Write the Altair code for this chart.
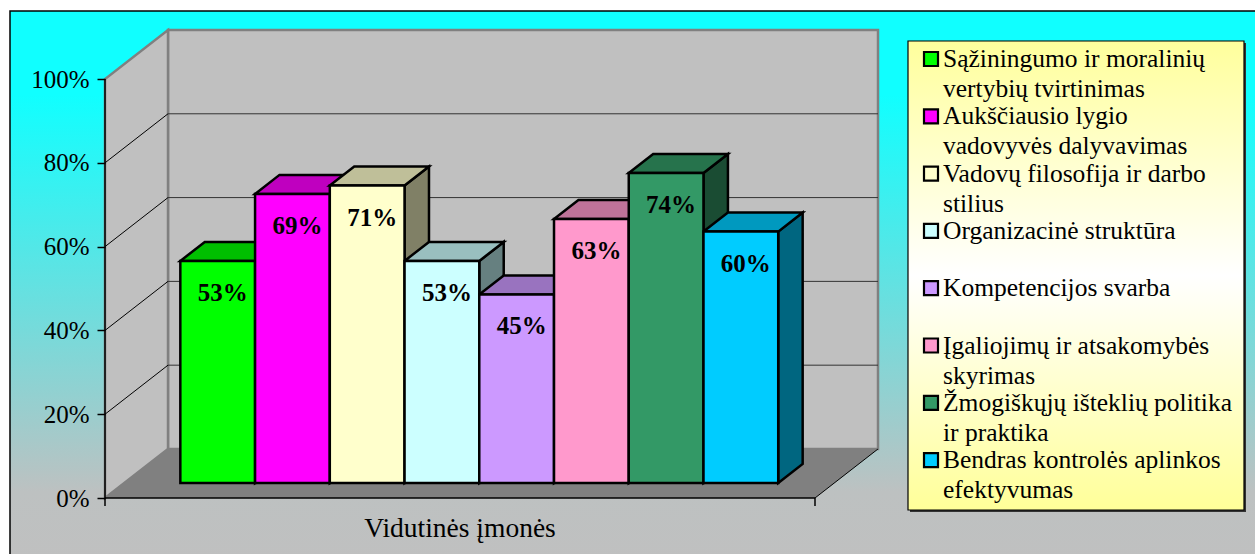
import altair as alt
import pandas as pd

# ---------------- data ----------------
legend_lines = [
    ["Sąžiningumo ir moralinių", "vertybių tvirtinimas"],
    ["Aukščiausio lygio", "vadovyvės dalyvavimas"],
    ["Vadovų filosofija ir darbo", "stilius"],
    ["Organizacinė struktūra", ""],
    ["Kompetencijos svarba", ""],
    ["Įgaliojimų ir atsakomybės", "skyrimas"],
    ["Žmogiškųjų išteklių politika", "ir praktika"],
    ["Bendras kontrolės aplinkos", "efektyvumas"],
]
categories = [" ".join(p for p in lines if p) for lines in legend_lines]
values = [53, 69, 71, 53, 45, 63, 74, 60]
front_colors = ["#00FF00", "#FF00FF", "#FFFFCC", "#CCFFFF",
                "#CC99FF", "#FF99CC", "#339966", "#00CCFF"]
y_ticks = [0, 20, 40, 60, 80, 100]
x_title = "Vidutinės įmonės"

# ---------------- 3-D box geometry (x in bar slots, y in percent) ----------------
SLOTS = 9.5          # floor width in bar widths
GAP = 0.75           # empty space before the first bar
DX, DY = 0.843, 11.7 # oblique shift of the full depth
Z0, Z1 = 0.306, 0.694  # bar depth (front, back)
VMAX = 100
W, H = 773, 468
FONT = "Liberation Serif"


def shade(hex_color, k):
    r, g, b = (int(hex_color[i:i + 2], 16) for i in (1, 3, 5))
    return "#{:02x}{:02x}{:02x}".format(round(r * k), round(g * k), round(b * k))


xs = alt.Scale(domain=[0, SLOTS + DX], nice=False, zero=False)
ys = alt.Scale(domain=[0, VMAX + DY], nice=False, zero=False)
yaxis = alt.Axis(values=y_ticks, labelExpr="datum.value + '%'", title=None,
                 domain=False, grid=False, tickSize=8, tickColor="black",
                 tickWidth=1.5, labelFont=FONT, labelFontSize=25,
                 labelColor="black", labelPadding=8, zindex=1)


def X(f):
    return alt.X(f, type="quantitative", scale=xs, axis=None, stack=None)


def Y(f):
    return alt.Y(f, type="quantitative", scale=ys, axis=yaxis, stack=None)


one = pd.DataFrame({"k": [0]})

# outer background panel
frame = alt.Chart(one).mark_rect(
    fill=alt.LinearGradient(
        gradient="linear", x1=0, x2=0, y1=0, y2=1,
        stops=[alt.GradientStop(color="#10FFFF", offset=0),
               alt.GradientStop(color="#10FFFF", offset=0.15),
               alt.GradientStop(color="#BDC1C1", offset=0.86),
               alt.GradientStop(color="#C0C0C0", offset=1)]),
    stroke="black", strokeWidth=1.5,
).encode(x=alt.value(-95), x2=alt.value(1170), y=alt.value(-19), y2=alt.value(540))

# walls and floor
back_wall = alt.Chart(pd.DataFrame({"x": [DX], "x2": [SLOTS + DX], "y": [DY], "y2": [VMAX + DY]})).mark_rect(
    fill="#C0C0C0", stroke="#808080", strokeWidth=2.5
).encode(x=X("x"), x2=alt.X2("x2"), y=Y("y"), y2=alt.Y2("y2"))

left_wall = alt.Chart(pd.DataFrame({"x": [0, DX], "ya": [0, DY], "yb": [VMAX, VMAX + DY]})).mark_area(
    fill="#C0C0C0", stroke="#808080", strokeWidth=2.5
).encode(x=X("x"), y=Y("ya"), y2=alt.Y2("yb"))

floor = alt.Chart(pd.DataFrame({"y": [0, DY], "xa": [0, DX], "xb": [SLOTS, SLOTS + DX]})).mark_area(
    orient="horizontal", fill="#808080"
).encode(y=Y("y"), x=X("xa"), x2=alt.X2("xb"))

inner = y_ticks[1:-1]
back_grid = alt.Chart(pd.DataFrame({"y": [v + DY for v in inner], "x": DX, "x2": SLOTS + DX})).mark_rule(
    color="#333333", strokeWidth=1
).encode(x=X("x"), x2=alt.X2("x2"), y=Y("y"))

side_grid = alt.Chart(pd.DataFrame({"x": 0.0, "y": inner, "x2": DX, "y2": [v + DY for v in inner]})).mark_rule(
    color="black", strokeWidth=1
).encode(x=X("x"), x2=alt.X2("x2"), y=Y("y"), y2=alt.Y2("y2"))

# bars: right faces, top faces, front faces
side_rows, top_rows, front_rows, label_rows = [], [], [], []
for i, (cat, v, col) in enumerate(zip(categories, values, front_colors)):
    for z in (Z0, Z1):
        side_rows.append({"bar": cat, "x": GAP + i + 1 + z * DX, "ya": z * DY, "yb": v + z * DY,
                          "fill": shade(col, 0.5)})
        top_rows.append({"bar": cat, "y": v + z * DY, "xa": GAP + i + z * DX, "xb": GAP + i + 1 + z * DX,
                         "fill": shade(col, 0.75)})
    front_rows.append({"bar": cat, "x": GAP + i + Z0 * DX, "x2": GAP + i + 1 + Z0 * DX,
                       "y": Z0 * DY, "y2": v + Z0 * DY, "fill": col})
    label_rows.append({"x": GAP + i + 0.5 + Z0 * DX, "y": v + Z0 * DY, "text": f"{v}%"})

bar_style = dict(stroke="black", strokeWidth=2.5, strokeJoin="miter")

sides = alt.Chart(pd.DataFrame(side_rows)).mark_area(**bar_style).encode(
    x=X("x"), y=Y("ya"), y2=alt.Y2("yb"), detail="bar:N", fill=alt.Fill("fill:N", scale=None))

tops = alt.Chart(pd.DataFrame(top_rows)).mark_area(orient="horizontal", **bar_style).encode(
    y=Y("y"), x=X("xa"), x2=alt.X2("xb"), detail="bar:N", fill=alt.Fill("fill:N", scale=None))

fronts = alt.Chart(pd.DataFrame(front_rows)).mark_rect(**bar_style).encode(
    x=X("x"), x2=alt.X2("x2"), y=Y("y"), y2=alt.Y2("y2"), fill=alt.Fill("fill:N", scale=None))

labels = alt.Chart(pd.DataFrame(label_rows)).mark_text(
    font=FONT, fontSize=25, fontWeight="bold", color="black", baseline="middle", dy=32, dx=5
).encode(x=X("x"), y=Y("y"), text="text:N")

# front edges of the box: value axis line, category axis line, end ticks, floor edge
axis_lines = pd.DataFrame({
    "x": [0, 0, 0, SLOTS, SLOTS],
    "y": [-1.9, 0, 0, -1.9, 0],
    "x2": [0, SLOTS, 0, SLOTS, SLOTS + DX],
    "y2": [VMAX, 0, 0, 0, DY],
    "w": [1.5, 1.5, 1.5, 1.5, 1.0],
})
edges = alt.Chart(axis_lines).mark_rule(color="black").encode(
    x=X("x"), x2=alt.X2("x2"), y=Y("y"), y2=alt.Y2("y2"),
    strokeWidth=alt.StrokeWidth("w:Q", scale=None))

title = alt.Chart(pd.DataFrame({"x": [SLOTS / 2], "y": [0], "t": [x_title]})).mark_text(
    font=FONT, fontSize=27.5, color="black", baseline="middle", dy=31
).encode(x=X("x"), y=Y("y"), text="t:N")

main = alt.layer(frame, back_wall, left_wall, floor, back_grid, side_grid,
                 sides, tops, fronts, labels, edges, title)

# ---------------- legend ----------------
leg = pd.DataFrame({
    "i": list(range(len(categories))),
    "cat": categories,
    "l1": [l[0] for l in legend_lines],
    "l2": [l[1] for l in legend_lines],
    "c": front_colors,
})
ly = alt.Y("i:O", scale=alt.Scale(type="point", range=[29, 430.1], padding=0), axis=None)

box_shadow = alt.Chart(one).mark_rect(fill="#333333").encode(
    x=alt.value(805), x2=alt.value(1141), y=alt.value(13), y2=alt.value(482))
box = alt.Chart(one).mark_rect(
    fill=alt.LinearGradient(
        gradient="linear", x1=0, x2=0, y1=0, y2=1,
        stops=[alt.GradientStop(color="#FFFF9C", offset=0),
               alt.GradientStop(color="#FFFFFF", offset=0.5),
               alt.GradientStop(color="#FFFF99", offset=1)]),
    stroke="black", strokeWidth=1.2,
).encode(x=alt.value(803), x2=alt.value(1139), y=alt.value(11), y2=alt.value(480))

swatch = alt.Chart(leg).mark_square(size=196, stroke="black", strokeWidth=2.2, opacity=1).encode(
    y=ly, x=alt.value(826), fill=alt.Fill("c:N", scale=None))
line1 = alt.Chart(leg).mark_text(font=FONT, fontSize=25.5, color="black", align="left",
                                 baseline="alphabetic", dy=8).encode(
    y=ly, x=alt.value(838), text="l1:N")
line2 = alt.Chart(leg).mark_text(font=FONT, fontSize=25.5, color="black", align="left",
                                 baseline="alphabetic", dy=38).encode(
    y=ly, x=alt.value(838), text="l2:N")

legend = alt.layer(box_shadow, box, swatch, line1, line2)

chart = alt.layer(main, legend).resolve_scale(y="independent").properties(
    width=W, height=H, autosize="none", background="white",
    padding={"left": 105, "top": 30, "right": 1255 - 105 - W, "bottom": 554 - 30 - H},
).configure_view(stroke=None)

chart.save("out.html", embed_options={"renderer": "svg", "actions": False})
